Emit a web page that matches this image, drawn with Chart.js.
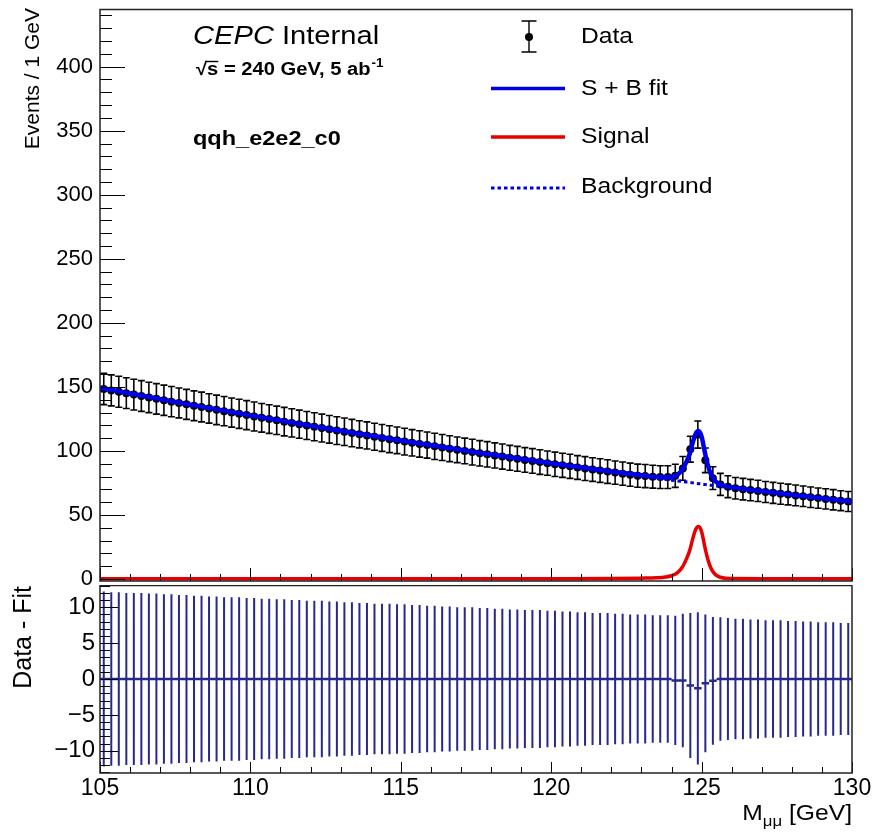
<!DOCTYPE html>
<html>
<head>
<meta charset="utf-8">
<script src="https://cdn.jsdelivr.net/npm/chart.js@4.4.1/dist/chart.umd.min.js"></script>
<style>
  html, body { margin: 0; padding: 0; background: #fff; }
  #wrap { position: relative; width: 876px; height: 834px; }
  #top { position: absolute; left: 0; top: 0; }
  #bottom { position: absolute; left: 0; top: 585px; }
</style>
</head>
<body>
<div id="wrap">
  <canvas id="top" width="876" height="585"></canvas>
  <canvas id="bottom" width="876" height="249"></canvas>
</div>
<script>
// bin centres (0.25 GeV bins)
const binCenters = [
  105.125, 105.375, 105.625, 105.875, 106.125, 106.375, 106.625, 106.875,
  107.125, 107.375, 107.625, 107.875, 108.125, 108.375, 108.625, 108.875,
  109.125, 109.375, 109.625, 109.875, 110.125, 110.375, 110.625, 110.875,
  111.125, 111.375, 111.625, 111.875, 112.125, 112.375, 112.625, 112.875,
  113.125, 113.375, 113.625, 113.875, 114.125, 114.375, 114.625, 114.875,
  115.125, 115.375, 115.625, 115.875, 116.125, 116.375, 116.625, 116.875,
  117.125, 117.375, 117.625, 117.875, 118.125, 118.375, 118.625, 118.875,
  119.125, 119.375, 119.625, 119.875, 120.125, 120.375, 120.625, 120.875,
  121.125, 121.375, 121.625, 121.875, 122.125, 122.375, 122.625, 122.875,
  123.125, 123.375, 123.625, 123.875, 124.125, 124.375, 124.625, 124.875,
  125.125, 125.375, 125.625, 125.875, 126.125, 126.375, 126.625, 126.875,
  127.125, 127.375, 127.625, 127.875, 128.125, 128.375, 128.625, 128.875,
  129.125, 129.375, 129.625, 129.875
];

const dataEvents = [
  148.4, 147.3, 146.2, 145.1, 144.0, 142.9, 141.8, 140.7,
  139.6, 138.5, 137.5, 136.4, 135.3, 134.3, 133.2, 132.1,
  131.1, 130.0, 129.0, 128.0, 126.9, 125.9, 124.9, 123.9,
  122.9, 121.9, 120.9, 119.9, 118.9, 117.9, 116.9, 115.9,
  115.0, 114.0, 113.0, 112.1, 111.1, 110.2, 109.2, 108.3,
  107.3, 106.4, 105.5, 104.6, 103.6, 102.7, 101.8, 100.9,
  100.0, 99.1, 98.2, 97.4, 96.5, 95.6, 94.7, 93.9,
  93.0, 92.2, 91.3, 90.5, 89.6, 88.8, 88.0, 87.1,
  86.3, 85.5, 84.7, 83.9, 83.1, 82.3, 81.5, 80.7,
  80.4, 79.9, 79.6, 79.6, 80.6, 86.4, 101.4, 112.8,
  92.7, 78.8, 73.9, 72.1, 70.9, 70.2, 69.5, 68.8,
  68.0, 67.3, 66.6, 66.0, 65.3, 64.6, 63.9, 63.2,
  62.6, 61.9, 61.2, 60.6
];

const dataErr = [
  12.2, 12.1, 12.1, 12.0, 12.0, 12.0, 11.9, 11.9,
  11.8, 11.8, 11.7, 11.7, 11.6, 11.6, 11.5, 11.5,
  11.4, 11.4, 11.4, 11.3, 11.3, 11.2, 11.2, 11.1,
  11.1, 11.0, 11.0, 10.9, 10.9, 10.9, 10.8, 10.8,
  10.7, 10.7, 10.6, 10.6, 10.5, 10.5, 10.5, 10.4,
  10.4, 10.3, 10.3, 10.2, 10.2, 10.1, 10.1, 10.0,
  10.0, 10.0, 9.9, 9.9, 9.8, 9.8, 9.7, 9.7,
  9.6, 9.6, 9.6, 9.5, 9.5, 9.4, 9.4, 9.3,
  9.3, 9.2, 9.2, 9.2, 9.1, 9.1, 9.0, 9.0,
  9.0, 8.9, 8.9, 8.9, 9.0, 9.3, 10.1, 10.6,
  9.6, 8.9, 8.6, 8.5, 8.4, 8.4, 8.3, 8.3,
  8.2, 8.2, 8.2, 8.1, 8.1, 8.0, 8.0, 7.9,
  7.9, 7.9, 7.8, 7.8
];

// data - fit
const residuals = [
  0, 0, 0, 0, 0, 0, 0, 0, 0, 0, 0, 0, 0, 0, 0, 0,
  0, 0, 0, 0, 0, 0, 0, 0, 0, 0, 0, 0, 0, 0, 0, 0,
  0, 0, 0, 0, 0, 0, 0, 0, 0, 0, 0, 0, 0, 0, 0, 0,
  0, 0, 0, 0, 0, 0, 0, 0, 0, 0, 0, 0, 0, 0, 0, 0,
  0, 0, 0, 0, 0, 0, 0, 0, 0, 0, 0, 0, -0.2, -0.2, -0.9, -1.3,
  -0.6, -0.25, 0, 0, 0, 0, 0, 0, 0, 0, 0, 0, 0, 0, 0, 0,
  0, 0, 0, 0
];

// fitted curves
const curveMass = [105, 107.5, 110, 112.5, 115, 117.5, 120, 122, 123, 123.5, 123.8, 124, 124.2, 124.35,
  124.5, 124.6, 124.7, 124.8, 124.9, 125, 125.1, 125.2, 125.3, 125.4, 125.5, 125.65, 125.8, 126, 127, 128, 130];
const fitCurve = [149.3, 138.3, 127.8, 117.7, 108.1, 99.0, 90.4, 83.9, 81.0, 79.8, 79.4, 79.8, 81.6, 85.2,
  91.7, 97.4, 106.1, 113.3, 115.5, 111.2, 99.9, 89.6, 82.3, 78.0, 75.5, 73.5, 72.4, 71.7, 68.7, 65.9, 60.6];
const bkgCurve = [149.0, 138.0, 127.5, 117.4, 107.8, 98.7, 90.1, 83.5, 80.3, 78.8, 77.8, 77.2, 76.6, 76.2,
  75.7, 75.4, 75.1, 74.8, 74.5, 74.2, 73.9, 73.6, 73.3, 73.0, 72.7, 72.3, 71.8, 71.3, 68.4, 65.6, 60.3];
const sigCurve = [0.3, 0.3, 0.3, 0.3, 0.3, 0.3, 0.3, 0.4, 0.7, 1.0, 1.6, 2.6, 5.0, 9.0,
  16.0, 22.0, 31.0, 38.5, 41.0, 37.0, 26.0, 16.0, 9.0, 5.0, 2.8, 1.2, 0.6, 0.4, 0.3, 0.3, 0.3];

const binHalfWidth = 0.125;

const FONT = '"Liberation Sans", Arial, sans-serif';
const SX = 1.12;
const BLUE = '#0000e6';
const RED = '#e60000';
const NAVY = '#28288c';

Chart.defaults.font.family = FONT;
Chart.defaults.color = '#000';

function pts(xs, ys) {
  return xs.map((m, i) => ({ x: m, y: ys[i] }));
}

function drawText(ctx, str, x, y, font, opts = {}) {
  const sx = opts.sx || 1;
  ctx.save();
  ctx.font = font;
  ctx.fillStyle = '#000';
  ctx.textAlign = 'left';
  ctx.textBaseline = opts.baseline || 'alphabetic';
  ctx.translate(x, y);
  ctx.scale(sx, 1);
  ctx.fillText(str, 0, 0);
  const w = ctx.measureText(str).width * sx;
  ctx.restore();
  return w;
}

// ROOT style frame with inward ticks
function inwardTicks(c) {
  return {
    id: 'inwardTicks',
    afterDraw(chart) {
      const { ctx, chartArea: a, scales: { x, y } } = chart;
      ctx.save();
      ctx.strokeStyle = '#000';
      ctx.lineWidth = 1;
      ctx.beginPath();
      for (let k = 0; ; k++) {
        const v = c.xFrom + k * c.xMinor;
        if (v > c.xTo + 1e-9) break;
        const px = Math.round(x.getPixelForValue(v)) + 0.5;
        const major = Math.abs(v / c.xMajor - Math.round(v / c.xMajor)) < 1e-6;
        ctx.moveTo(px, a.bottom);
        ctx.lineTo(px, a.bottom - (major ? c.xMajLen : c.xMinLen));
      }
      for (let k = 0; ; k++) {
        const v = c.yFrom + k * c.yMinor;
        if (v > c.yTo + 1e-9) break;
        const py = Math.round(y.getPixelForValue(v)) + 0.5;
        const major = Math.abs(v / c.yMajor - Math.round(v / c.yMajor)) < 1e-6;
        ctx.moveTo(a.left, py);
        ctx.lineTo(a.left + (major ? c.yMajLen : c.yMinLen), py);
      }
      ctx.stroke();
      ctx.lineWidth = 1.5;
      ctx.strokeStyle = '#222';
      ctx.strokeRect(a.left, a.top + 0.5, a.right - a.left, a.bottom - a.top - 0.5);
      ctx.restore();
    }
  };
}

const dataErrorBars = {
  id: 'dataErrorBars',
  beforeDatasetsDraw(chart) {
    const { ctx, chartArea: a, scales: { x, y } } = chart;
    ctx.save();
    ctx.beginPath();
    ctx.rect(a.left, a.top, a.right - a.left, a.bottom - a.top);
    ctx.clip();
    ctx.strokeStyle = '#000';
    ctx.lineWidth = 1.6;
    ctx.beginPath();
    binCenters.forEach((m, i) => {
      const px = x.getPixelForValue(m);
      const hi = y.getPixelForValue(dataEvents[i] + dataErr[i]);
      const lo = y.getPixelForValue(dataEvents[i] - dataErr[i]);
      ctx.moveTo(px, hi); ctx.lineTo(px, lo);
      ctx.moveTo(px - 3.5, hi); ctx.lineTo(px + 3.5, hi);
      ctx.moveTo(px - 3.5, lo); ctx.lineTo(px + 3.5, lo);
    });
    ctx.stroke();
    ctx.restore();
  }
};

const topText = {
  id: 'topText',
  afterDraw(chart) {
    const ctx = chart.ctx;
    // labels
    let cx = 193;
    cx += drawText(ctx, 'CEPC', cx, 44, 'italic 26px ' + FONT, { sx: SX });
    drawText(ctx, ' Internal', cx, 44, '26px ' + FONT, { sx: SX });

    const b18 = 'bold 18px ' + FONT;
    cx = 196;
    cx += drawText(ctx, '\u221A', cx, 75, b18, { sx: SX });
    const sw = drawText(ctx, 's', cx, 75, b18, { sx: SX });
    ctx.save();
    ctx.strokeStyle = '#000';
    ctx.lineWidth = 1.4;
    ctx.beginPath();
    ctx.moveTo(cx - 1, 61.5); ctx.lineTo(cx + sw, 61.5);
    ctx.stroke();
    ctx.restore();
    cx += sw;
    cx += drawText(ctx, ' = 240 GeV, 5 ab', cx, 75, b18, { sx: SX });
    drawText(ctx, '-1', cx + 1, 67, 'bold 12px ' + FONT, { sx: SX });

    drawText(ctx, 'qqh_e2e2_c0', 193, 145, 'bold 21px ' + FONT, { sx: SX });

    // y title
    ctx.save();
    ctx.translate(33, 8);
    ctx.rotate(-Math.PI / 2);
    ctx.font = '21px ' + FONT;
    ctx.fillStyle = '#000';
    ctx.textAlign = 'right';
    ctx.textBaseline = 'middle';
    ctx.fillText('Events / 1 GeV', 0, 0);
    ctx.restore();

    // legend
    const lf = '22px ' + FONT;
    const tx = 581, l0 = 491, l1 = 565;
    ctx.save();
    ctx.strokeStyle = '#000';
    ctx.lineWidth = 1.4;
    ctx.beginPath();
    ctx.moveTo(529, 21); ctx.lineTo(529, 52);
    ctx.moveTo(521.5, 21); ctx.lineTo(536.5, 21);
    ctx.moveTo(521.5, 52); ctx.lineTo(536.5, 52);
    ctx.stroke();
    ctx.fillStyle = '#000';
    ctx.beginPath();
    ctx.arc(529, 37, 4, 0, Math.PI * 2);
    ctx.fill();

    ctx.lineWidth = 3.5;
    ctx.strokeStyle = BLUE;
    ctx.beginPath(); ctx.moveTo(l0, 88.5); ctx.lineTo(l1, 88.5); ctx.stroke();
    ctx.strokeStyle = RED;
    ctx.beginPath(); ctx.moveTo(l0, 137); ctx.lineTo(l1, 137); ctx.stroke();
    ctx.strokeStyle = BLUE;
    ctx.lineWidth = 3;
    ctx.setLineDash([3.5, 3]);
    ctx.beginPath(); ctx.moveTo(l0, 188); ctx.lineTo(l1, 188); ctx.stroke();
    ctx.restore();

    drawText(ctx, 'Data', tx, 37, lf, { sx: SX, baseline: 'middle' });
    drawText(ctx, 'S + B fit', tx, 89, lf, { sx: SX, baseline: 'middle' });
    drawText(ctx, 'Signal', tx, 137, lf, { sx: SX, baseline: 'middle' });
    drawText(ctx, 'Background', tx, 187, lf, { sx: SX, baseline: 'middle' });
  }
};

const residualBars = {
  id: 'residualBars',
  afterDatasetsDraw(chart) {
    const { ctx, chartArea: a, scales: { x, y } } = chart;
    ctx.save();
    ctx.beginPath();
    ctx.rect(a.left, a.top, a.right - a.left, a.bottom - a.top);
    ctx.clip();
    ctx.strokeStyle = NAVY;
    ctx.lineWidth = 2;
    ctx.beginPath();
    binCenters.forEach((m, i) => {
      const px = x.getPixelForValue(m);
      ctx.moveTo(px, y.getPixelForValue(residuals[i] + dataErr[i]));
      ctx.lineTo(px, y.getPixelForValue(residuals[i] - dataErr[i]));
    });
    ctx.stroke();
    ctx.lineWidth = 2.5;
    ctx.beginPath();
    binCenters.forEach((m, i) => {
      const py = y.getPixelForValue(residuals[i]);
      ctx.moveTo(x.getPixelForValue(m - binHalfWidth), py);
      ctx.lineTo(x.getPixelForValue(m + binHalfWidth), py);
    });
    ctx.stroke();
    ctx.restore();
  }
};

const bottomText = {
  id: 'bottomText',
  afterDraw(chart) {
    const ctx = chart.ctx;
    ctx.save();
    ctx.translate(24, 1);
    ctx.rotate(-Math.PI / 2);
    ctx.font = '25px ' + FONT;
    ctx.fillStyle = '#000';
    ctx.textAlign = 'right';
    ctx.textBaseline = 'middle';
    ctx.fillText('Data - Fit', 0, 0);
    ctx.restore();

    // M_mumu [GeV], right aligned to the frame
    const f22 = '22px ' + FONT, f15 = '15px ' + FONT;
    ctx.save();
    ctx.font = f22;
    const wM = ctx.measureText('M').width * SX;
    const wG = ctx.measureText(' [GeV]').width * SX;
    ctx.font = f15;
    const wS = ctx.measureText('\u03BC\u03BC').width * SX;
    ctx.restore();
    let cx = chart.chartArea.right - (wM + wS + wG);
    cx += drawText(ctx, 'M', cx, 235, f22, { sx: SX });
    cx += drawText(ctx, '\u03BC\u03BC', cx, 241, f15, { sx: SX });
    drawText(ctx, ' [GeV]', cx, 235, f22, { sx: SX });
  }
};

// upper panel
new Chart(document.getElementById('top'), {
  type: 'scatter',
  data: {
    datasets: [
      { label: 'S + B fit', data: pts(curveMass, fitCurve), showLine: true, borderColor: BLUE,
        borderWidth: 4.5, pointRadius: 0, cubicInterpolationMode: 'monotone', order: 0 },
      { label: 'Background', data: pts(curveMass, bkgCurve), showLine: true, borderColor: BLUE,
        borderWidth: 3, borderDash: [3.5, 3], pointRadius: 0, order: 1 },
      { label: 'Signal', data: pts(curveMass, sigCurve), showLine: true, borderColor: RED,
        borderWidth: 3.5, pointRadius: 0, cubicInterpolationMode: 'monotone', order: 2 },
      { label: 'Data', data: pts(binCenters, dataEvents), showLine: false, pointRadius: 4,
        pointBackgroundColor: '#000', pointBorderWidth: 0, order: 3 }
    ]
  },
  options: {
    responsive: false,
    animation: false,
    devicePixelRatio: 1,
    layout: { padding: { left: 0, right: 24, top: 9, bottom: 0 } },
    plugins: { legend: { display: false }, tooltip: { enabled: false } },
    scales: {
      x: { type: 'linear', min: 105, max: 130, display: false },
      y: {
        min: -1.5, max: 445,
        ticks: { stepSize: 50, includeBounds: false, font: { size: 22 }, color: '#000', padding: 7 },
        grid: { display: false, drawTicks: false },
        border: { display: false },
        afterFit(s) { s.width = 100; s.paddingTop = 0; s.paddingBottom = 0; }
      }
    }
  },
  plugins: [dataErrorBars,
    inwardTicks({ xFrom: 105, xTo: 130, xMajor: 5, xMinor: 1, xMajLen: 13, xMinLen: 7,
                  yFrom: 0, yTo: 440, yMajor: 50, yMinor: 10, yMajLen: 25, yMinLen: 12 }),
    topText]
});

// lower panel: residuals
new Chart(document.getElementById('bottom'), {
  type: 'scatter',
  data: {
    datasets: [
      { label: 'Data - Fit', data: pts(binCenters, residuals), showLine: false, pointRadius: 0 }
    ]
  },
  options: {
    responsive: false,
    animation: false,
    devicePixelRatio: 1,
    layout: { padding: { left: 0, right: 24, top: 0, bottom: 0 } },
    plugins: { legend: { display: false }, tooltip: { enabled: false } },
    scales: {
      x: {
        type: 'linear', min: 105, max: 130,
        ticks: { stepSize: 5, font: { size: 23 }, color: '#000', padding: 2, maxRotation: 0, autoSkip: false },
        grid: { display: false, drawTicks: false },
        border: { display: false },
        afterFit(s) { s.height = 61; s.paddingLeft = 0; s.paddingRight = 0; }
      },
      y: {
        min: -13.1, max: 13.1,
        ticks: { stepSize: 5, includeBounds: false, font: { size: 24 }, color: '#000', padding: 5,
                 callback: v => String(v).replace('-', '\u2212') },
        grid: { display: false, drawTicks: false },
        border: { display: false },
        afterFit(s) { s.width = 100; s.paddingTop = 0; s.paddingBottom = 0; }
      }
    }
  },
  plugins: [residualBars,
    inwardTicks({ xFrom: 105, xTo: 130, xMajor: 5, xMinor: 1, xMajLen: 11, xMinLen: 6,
                  yFrom: -13, yTo: 13, yMajor: 5, yMinor: 1, yMajLen: 18, yMinLen: 10 }),
    bottomText]
});
</script>
</body>
</html>
